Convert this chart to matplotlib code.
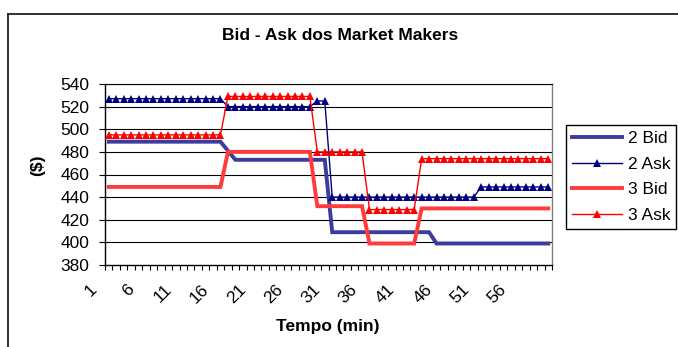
import matplotlib
matplotlib.use("Agg")
import matplotlib.pyplot as plt
import matplotlib.transforms as mtransforms
from matplotlib.lines import Line2D

plt.rcParams['font.family'] = ['Liberation Sans', 'DejaVu Sans']

# minutes 1..60
minutes = list(range(1, 61))

bid_2 = [489, 489, 489, 489, 489, 489, 489, 489, 489, 489,
         489, 489, 489, 489, 489, 489, 481, 473, 473, 473,
         473, 473, 473, 473, 473, 473, 473, 473, 473, 473,
         409, 409, 409, 409, 409, 409, 409, 409, 409, 409,
         409, 409, 409, 409, 399, 399, 399, 399, 399, 399,
         399, 399, 399, 399, 399, 399, 399, 399, 399, 399]

ask_2 = [527, 527, 527, 527, 527, 527, 527, 527, 527, 527,
         527, 527, 527, 527, 527, 527, 520, 520, 520, 520,
         520, 520, 520, 520, 520, 520, 520, 520, 525, 525,
         440, 440, 440, 440, 440, 440, 440, 440, 440, 440,
         440, 440, 440, 440, 440, 440, 440, 440, 440, 440,
         449, 449, 449, 449, 449, 449, 449, 449, 449, 449]

bid_3 = [449, 449, 449, 449, 449, 449, 449, 449, 449, 449,
         449, 449, 449, 449, 449, 449, 480, 480, 480, 480,
         480, 480, 480, 480, 480, 480, 480, 480, 432, 432,
         432, 432, 432, 432, 432, 399, 399, 399, 399, 399,
         399, 399, 430, 430, 430, 430, 430, 430, 430, 430,
         430, 430, 430, 430, 430, 430, 430, 430, 430, 430]

ask_3 = [495, 495, 495, 495, 495, 495, 495, 495, 495, 495,
         495, 495, 495, 495, 495, 495, 529, 529, 529, 529,
         529, 529, 529, 529, 529, 529, 529, 529, 480, 480,
         480, 480, 480, 480, 480, 429, 429, 429, 429, 429,
         429, 429, 474, 474, 474, 474, 474, 474, 474, 474,
         474, 474, 474, 474, 474, 474, 474, 474, 474, 474]

series_names = ['2 Bid', '2 Ask', '3 Bid', '3 Ask']
x_tick_labels = ['1', '6', '11', '16', '21', '26', '31', '36', '41', '46', '51', '56']
y_ticks = [380, 400, 420, 440, 460, 480, 500, 520, 540]

W, H = 678, 347
fig = plt.figure(figsize=(W / 100, H / 100), dpi=100)
fig.subplots_adjust(left=105 / W, right=552 / W, top=1 - 84 / H, bottom=1 - 265 / H)
ax = fig.add_subplot(111)

# horizontal gridlines
for yv in y_ticks[1:]:
    ax.axhline(yv, color='black', lw=0.8, zorder=1)

ax.plot(minutes, bid_2, color='#3B3BA0', lw=2.8, solid_joinstyle='miter',
        label=series_names[0], zorder=3)
ax.plot(minutes, ask_2, color='#000080', lw=1.0, marker='^', markersize=5.5,
        markeredgewidth=0, label=series_names[1], zorder=4)
ax.plot(minutes, bid_3, color='#FF3B3B', lw=2.8, solid_joinstyle='miter',
        label=series_names[2], zorder=5)
ax.plot(minutes, ask_3, color='#FF0000', lw=1.0, marker='^', markersize=5.5,
        markeredgewidth=0, label=series_names[3], zorder=6)

ax.set_xlim(0.5, 60.5)
ax.set_ylim(380, 540)

ax.set_yticks(y_ticks)
ax.set_yticklabels([str(v) for v in y_ticks])
ax.tick_params(axis='y', direction='out', length=4, width=0.8, pad=7,
               labelsize=12.5, colors='black')

label_pos = [int(s) for s in x_tick_labels]
ax.set_xticks(label_pos)
ax.set_xticklabels(x_tick_labels)
ax.set_xticks([m - 0.5 for m in minutes] + [60.5], minor=True)
ax.tick_params(axis='x', which='major', length=0, pad=12, labelsize=12.5)
ax.tick_params(axis='x', which='minor', direction='out', length=3.5, width=0.8)
shift = mtransforms.ScaledTranslation(-9 / 100, 0, fig.dpi_scale_trans)
for lab in ax.get_xticklabels():
    lab.set_rotation(45)
    lab.set_ha('right')
    lab.set_va('top')
    lab.set_transform(lab.get_transform() + shift)

for side in ('left', 'bottom'):
    ax.spines[side].set_color('black')
    ax.spines[side].set_linewidth(1.0)
ax.spines['top'].set_color('black')
ax.spines['top'].set_linewidth(0.8)
ax.spines['right'].set_color('#808080')
ax.spines['right'].set_linewidth(1.0)

fig.text(340 / W, 1 - 35 / H, 'Bid - Ask dos Market Makers', ha='center', va='center',
         fontsize=12.5, fontweight='bold')
fig.text(328 / W, 1 - 326 / H, 'Tempo (min)', ha='center', va='center',
         fontsize=12.5, fontweight='bold')
fig.text(38 / W, 1 - 165 / H, '($)', ha='center', va='center', rotation=90,
         fontsize=12.5, fontweight='bold')

leg = fig.legend(loc='upper left', bbox_to_anchor=(566 / W, 1 - 125 / H),
                 frameon=True, fancybox=False, framealpha=1, edgecolor='black',
                 fontsize=12.5, handlelength=2.9, handletextpad=0.3,
                 borderpad=0.35, labelspacing=0.6, borderaxespad=0)
leg.get_frame().set_linewidth(1.0)

# chart area border (left and top edges visible)
fig.add_artist(Line2D([8 / W, 8 / W], [0, 1 - 14 / H], transform=fig.transFigure,
                      color='#222222', lw=1.3))
fig.add_artist(Line2D([8 / W, 1], [1 - 14 / H, 1 - 14 / H], transform=fig.transFigure,
                      color='#222222', lw=1.3))

fig.savefig('out.png', dpi=100)
